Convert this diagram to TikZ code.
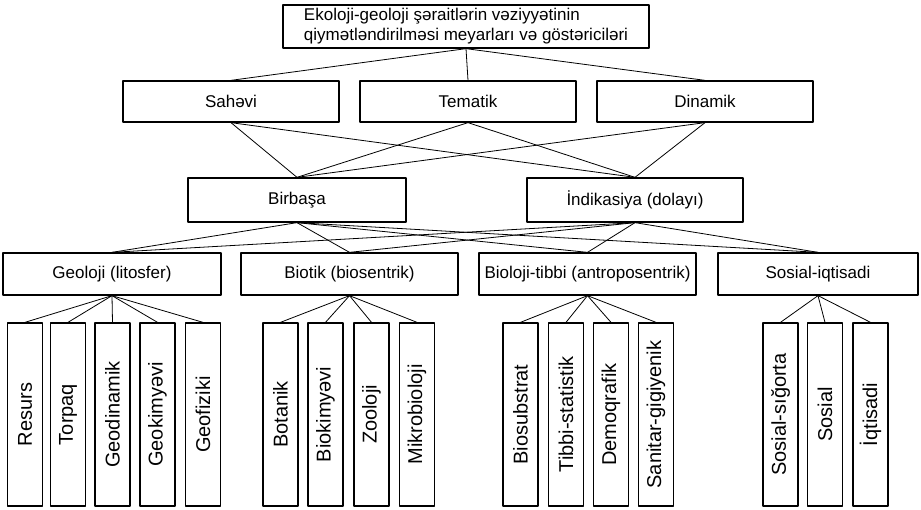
\documentclass[tikz,border=0pt]{standalone}
\usepackage{fontspec}
\setmainfont{Liberation Sans}
\usepackage{graphicx}
\usepackage{tikz}
\newcommand{\boxfont}{\fontsize{17}{20}\selectfont}
\newcommand{\leaffont}{\fontsize{20}{22}\selectfont}

\begin{document}
\begin{tikzpicture}[x=1pt, y=1pt, line cap=round, line join=round,
  box/.style={draw, line width=1.3, inner sep=0, align=center, font=\boxfont},
  leaf/.style={draw, line width=1.3, inner sep=0, minimum width=35, minimum height=183, font=\leaffont},
  link/.style={line width=0.8}]
  \useasboundingbox (0,0) rectangle (921,-510);
  % top
  \node[box, align=left, minimum width=366, minimum height=43] (top) at (466,-26.5)
    {Ekoloji-geoloji şəraitlərin vəziyyətinin\\qiymətləndirilməsi meyarları və göstəriciləri};
  % criteria
  \node[box, minimum width=216, minimum height=41] (sah) at (231,-101.5) {Sahəvi};
  \node[box, minimum width=216, minimum height=41] (tem) at (468,-101.5) {Tematik};
  \node[box, minimum width=216, minimum height=41] (din) at (705,-101.5) {Dinamik};
  % direct / indirect
  \node[box, minimum width=218, minimum height=44] (bir) at (297,-200) {Birbaşa};
  \node[box, minimum width=216, minimum height=44] (ind) at (635,-200) {İndikasiya (dolayı)};
  % groups
  \node[box, minimum width=218, minimum height=42] (geo) at (112,-274) {Geoloji (litosfer)};
  \node[box, minimum width=217, minimum height=42] (bio) at (349.5,-274) {Biotik (biosentrik)};
  \node[box, minimum width=217, minimum height=42] (tib) at (587.5,-274) {Bioloji-tibbi (antroposentrik)};
  \node[box, minimum width=200, minimum height=42] (sos) at (818,-274) {Sosial-iqtisadi};
  % links between levels
  \foreach \n in {sah,tem,din} { \draw[link] (top.south) -- (\n.north); }
  \foreach \n in {sah,tem,din} {
    \draw[link] (\n.south) -- (bir.north);
    \draw[link] (\n.south) -- (ind.north);
  }
  \foreach \n in {geo,bio,tib,sos} {
    \draw[link] (bir.south) -- (\n.north);
    \draw[link] (ind.south) -- (\n.north);
  }
  % indicators
  \foreach \x/\n/\t/\p in {25/res/Resurs, 68/tor/Torpaq, 112.5/gdn/Geodinamik, 157.5/gkm/Geokimyəvi, 203/gfz/Geofiziki,
      280.5/bot/Botanik, 325.5/bkm/Biokimyəvi, 371.5/zoo/Zooloji, 417/mik/Mikrobioloji} {
    \node[leaf] (\n) at (\x,-414.5) {\rotatebox{90}{\t}};
  }
  \foreach \x/\n/\t in {520.5/bsu/Biosubstrat, 566/tst/Tibbi-statistik, 611/dem/Demoqrafik, 656/san/Sanitar-gigiyenik,
      780.5/ssg/Sosial-sığorta, 825/sol/Sosial, 870.5/iqt/İqtisadi} {
    \node[leaf] (\n) at (\x,-414.5) {\rotatebox{90}{\t}};
  }
  \foreach \n in {res,tor,gdn,gkm,gfz} { \draw[link] (geo.south) -- (\n.north); }
  \foreach \n in {bot,bkm,zoo,mik} { \draw[link] (bio.south) -- (\n.north); }
  \foreach \n in {bsu,tst,dem,san} { \draw[link] (tib.south) -- (\n.north); }
  \foreach \n in {ssg,sol,iqt} { \draw[link] (sos.south) -- (\n.north); }
\end{tikzpicture}
\end{document}
